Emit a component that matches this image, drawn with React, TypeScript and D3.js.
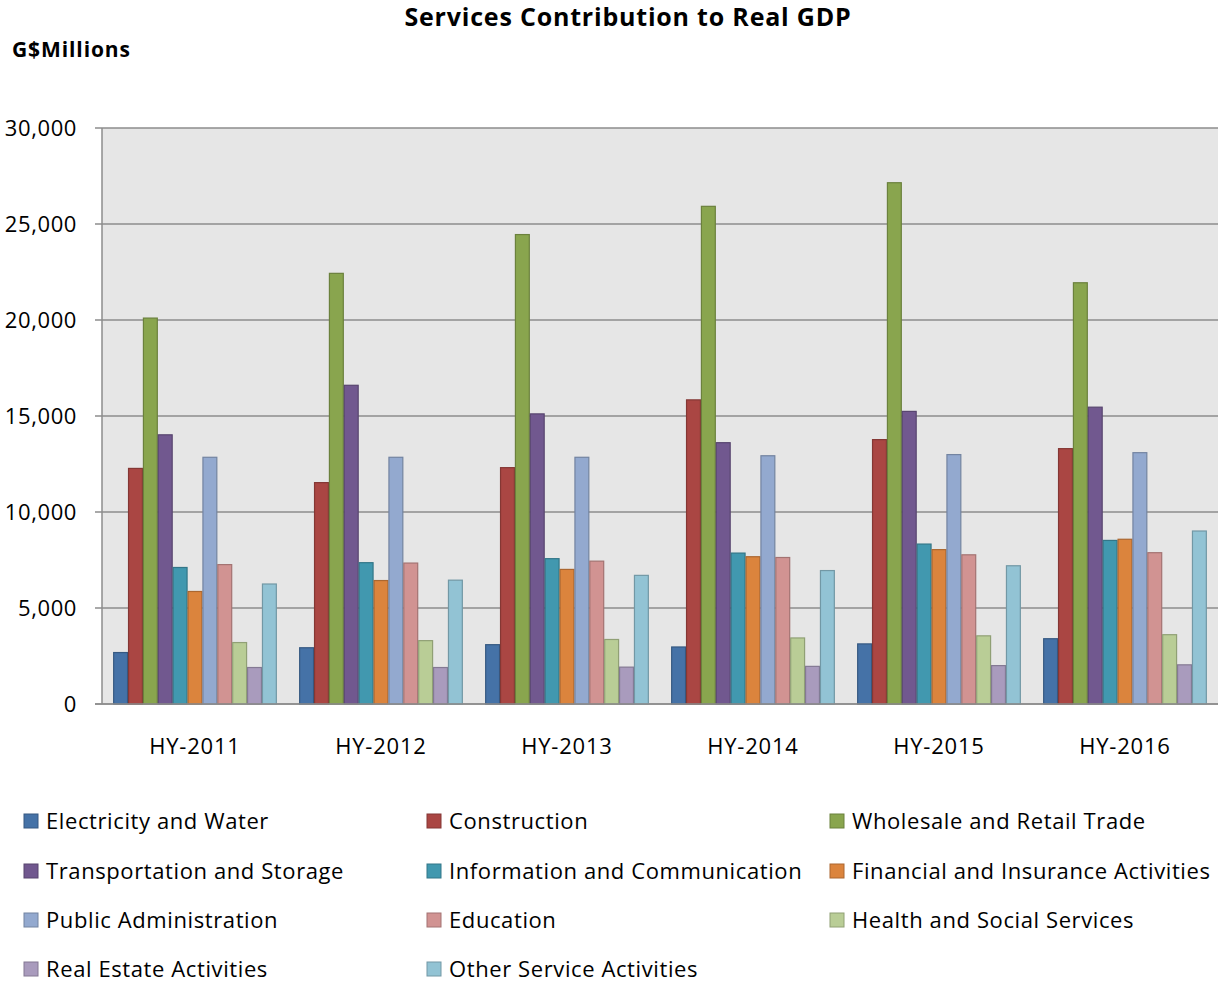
import React from "react";
import * as d3 from "d3";

const categories = ["HY-2011", "HY-2012", "HY-2013", "HY-2014", "HY-2015", "HY-2016"];
const seriesNames = [
  "Electricity and Water",
  "Construction",
  "Wholesale and Retail Trade",
  "Transportation and Storage",
  "Information and Communication",
  "Financial and Insurance Activities",
  "Public Administration",
  "Education",
  "Health and Social Services",
  "Real Estate Activities",
  "Other Service Activities",
];
const electricity = [2680, 2930, 3090, 2970, 3130, 3400];
const construction = [12270, 11530, 12310, 15840, 13770, 13300];
const wholesale = [20100, 22430, 24450, 25920, 27150, 21940];
const transport = [14020, 16600, 15110, 13610, 15240, 15460];
const information = [7110, 7360, 7570, 7860, 8330, 8520];
const financial = [5860, 6430, 7010, 7670, 8040, 8580];
const publicAdmin = [12850, 12850, 12850, 12930, 12990, 13090];
const education = [7260, 7340, 7440, 7630, 7770, 7880];
const health = [3200, 3300, 3360, 3440, 3550, 3610];
const realEstate = [1900, 1900, 1920, 1960, 2000, 2040];
const otherServices = [6250, 6450, 6700, 6950, 7200, 9010];
const seriesValues = [
  electricity, construction, wholesale, transport, information, financial,
  publicAdmin, education, health, realEstate, otherServices,
];
const colors = [
  "#4572A7", "#AA4643", "#89A54E", "#71588F", "#4198AF", "#DB843D",
  "#93A9CF", "#D19392", "#B9CD96", "#A99BBD", "#92C3D4",
];
const yTicks = [0, 5000, 10000, 15000, 20000, 25000, 30000];

const W = 1220, H = 988;
const left = 102, right = 1218, top = 128, bottom = 704;
const FONT = "'Open Sans', 'Liberation Sans', sans-serif";

export default function App() {
  const x0 = d3.scaleBand().domain(categories).range([left, right]).paddingInner(0).paddingOuter(0);
  const groupW = x0.bandwidth();
  const barW = groupW / 12.5;
  const x1 = d3.scaleBand().domain(seriesNames).range([barW * 0.75, groupW - barW * 0.75]).padding(0);
  const y = d3.scaleLinear().domain([0, 30000]).range([bottom, top]);
  const fmt = d3.format(",");

  const legendCols = [24, 427, 830];
  const legendRows = [821, 871, 920, 969];

  return (
    <svg width={W} height={H} style={{ position: "absolute", left: 0, top: 0, background: "#fff" }}>
      <rect x={left} y={top} width={right - left} height={bottom - top} fill="#e6e6e6" />
      {yTicks.map((t) => (
        <g key={t}>
          <line x1={left - 7} x2={right} y1={y(t)} y2={y(t)} stroke="#8c8c8c" strokeWidth={1.5} />
          <text x={77} y={y(t)} dy="0.35em" textAnchor="end" fontFamily={FONT} fontSize={22} letterSpacing={0.6} fill="#000">
            {fmt(t)}
          </text>
        </g>
      ))}
      <line x1={left} x2={left} y1={top} y2={bottom} stroke="#8c8c8c" strokeWidth={1.5} />
      {categories.map((c, ci) => (
        <g key={c} transform={`translate(${x0(c)},0)`}>
          {seriesNames.map((s, si) => {
            const v = seriesValues[si][ci];
            const col = colors[si];
            return (
              <rect
                key={s}
                x={(x1(s) as number) + 0.5}
                y={y(v)}
                width={x1.bandwidth() - 1}
                height={y(0) - y(v)}
                fill={col}
                stroke={d3.color(col)!.darker(0.7).formatHex()}
                strokeWidth={1.2}
              />
            );
          })}
          <text x={groupW / 2} y={746} dy="0.35em" textAnchor="middle" fontFamily={FONT} fontSize={22} letterSpacing={0.8} fill="#000">
            {c}
          </text>
        </g>
      ))}
      <line x1={left - 7} x2={right} y1={bottom} y2={bottom} stroke="#8c8c8c" strokeWidth={1.5} />
      <text x={628} y={17} dy="0.35em" textAnchor="middle" fontFamily={FONT} fontWeight="bold" fontSize={25} letterSpacing={0.8} fill="#000">
        Services Contribution to Real GDP
      </text>
      <text x={12} y={50} dy="0.35em" fontFamily={FONT} fontWeight="bold" fontSize={21} letterSpacing={0.9} fill="#000">
        G$Millions
      </text>
      {seriesNames.map((s, i) => {
        const col = legendCols[i % 3];
        const row = legendRows[Math.floor(i / 3)];
        return (
          <g key={s} transform={`translate(${col},${row})`}>
            <rect x={0} y={-7} width={14} height={14} fill={colors[i]} stroke={d3.color(colors[i])!.darker(0.7).formatHex()} strokeWidth={1} />
            <text x={22} y={0} dy="0.35em" fontFamily={FONT} fontSize={22} letterSpacing={0.6} fill="#000">
              {s}
            </text>
          </g>
        );
      })}
    </svg>
  );
}
